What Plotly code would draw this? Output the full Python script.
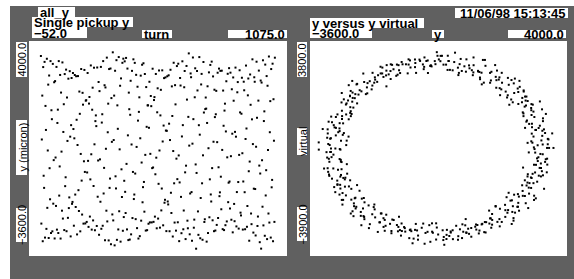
import plotly.graph_objects as go

W, H = 574, 279

# ---- data (read / estimated from the picture) ----
turn = list(range(0, 1024, 2))

y_micron = [
    3470, -2454, 519, 2070, -3078, 3078, -763, -1192, 3262, -2949,
    1705, 856, -2641, 3372, -1898, 130, 2458, -2963, 2780, -496,
    -1595, 3289, -2788, 1552, 1236, -2728, 3191, -1750, -211, 2542,
    -2980, 2582, -119, -1830, 3084, -2668, 1103, 1573, -2788, 3289,
    -1465, -434, 2800, -2983, 2177, 90, -1998, 3243, -2277, 785,
    1765, -2683, 2831, -1131, -817, 2988, -2724, 2002, 468, -2251,
    2668, -1906, -1529, 2933, 618, -2907, 1025, 2692, -1756, -1688,
    2869, 888, -2529, 560, 2798, -1428, -1867, 2754, 1215, -2837,
    323, 2760, -1273, -2009, 2213, 1426, -2728, 8, 3009, -935,
    -2135, 2168, 1750, -2455, -252, 2977, -628, -2449, 1890, 1908,
    -2395, -647, 2870, -237, -2571, 1788, 2021, -2207, -892, 3136,
    -4, -2667, 1571, 2350, -2342, -1125, 3056, 348, -2690, 1168,
    1370, 991, -2538, 3064, -1505, -224, 2551, -2850, 2228, -184,
    -1682, 3084, -2638, 1117, 1411, -2531, 3289, -1390, -485, 2436,
    -3043, 2358, 190, -1998, 3412, -2378, 774, 1785, -3049, 3008,
    -1192, -863, 3028, -3184, 1982, 435, -2131, 3600, -2342, 499,
    2070, -3224, 2948, -783, -1212, 3322, -3029, 1725, 896, -2661,
    3432, -2018, 170, 2418, -3092, 2678, -536, -1515, 3229, -2708,
    3375, -2224, -941, 3281, -1332, -2081, 3402, -344, -2660, 3025,
    665, -3038, 2175, 1589, -3018, 1392, 2594, -2835, 342, 2944,
    -2259, -628, 3352, -1587, -1427, 3227, -685, -2297, 2804, 256,
    -2615, 2383, 1186, -2982, 1495, 2009, -2898, 562, 2776, -2351,
    -296, 3161, -1701, -1166, 3213, -982, -2033, 2833, -25, -2701,
    2371, 966, -2687, 1725, 1726, -2460, 932, 2559, -2412, 11,
    2057, 1697, -2413, -494, 3020, -471, -2393, 1913, 2017, -2208,
    -711, 2835, -124, -2621, 1480, 2328, -2277, -1049, 2958, 130,
    -2598, 1370, 2274, -1988, -1215, 2963, 448, -2515, 1011, 2688,
    -1717, -1613, 2713, 834, -2720, 825, 2753, -1673, -1777, 2788,
    1077, -2724, 499, 2983, -1365, -2079, 2396, 1350, -2911, 110,
    3231, -1030, -2418, 2439, 1760, -2703, -159, 3114, -883, -2408,
    3197, -45, -3075, -999, 2693, 2426, -1510, -2794, 626, 3282,
    1026, -2656, -1992, 2365, 2940, -643, -3002, -407, 3118, 1929,
    -2351, -2620, 1318, 3562, 302, -2833, -1390, 2853, 2720, -1341,
    -3063, 371, 3417, 1238, -2600, -2314, 2011, 3035, -363, -3342,
    -664, 2939, 2252, -2024, -2852, 1024, 3431, 689, -2973, -1549,
    2464, 2837, -1030, -3027, -41, 3257, 1472, -2397, -2302, 1593,
    2002, 1610, -3092, 1103, 2399, -2788, 210, 2891, -2231, -890,
    3154, -1425, -1673, 3271, -494, -2338, 2748, 439, -2723, 2278,
    1310, -2700, 1410, 2238, -2501, 424, 2878, -2257, -463, 3024,
    -1485, -1350, 2944, -797, -1948, 2951, 150, -2651, 2248, 1004,
    -2684, 1540, 1785, -2511, 803, 2577, -2378, -112, 2841, -1697,
    -1009, 3040, -968, -1917, 2881, -72, -2318, 2294, 723, -2764,
    2712, 1889, -1759, -2370, 788, 3060, 618, -2554, -1340, 2187,
    2548, -986, -2631, -26, 2966, 1476, -2068, -2166, 1429, 2701,
    33, -2666, -966, 2561, 2258, -1345, -2654, 537, 3132, 907,
    -2567, -1833, 2079, 2674, -604, -3060, -262, 2816, 1745, -2098,
    -2475, 1231, 3352, 356, -2772, -1220, 2718, 2559, -1233, -2874,
    262, 3268, 1286, -2538, -2205, 1893, 2954, -404, -3112, -684,
    2602, -3340, 2531, -215, -1858, 3318, -2518, 1170, 1513, -2885,
    3166, -1460, -567, 2760, -3003, 2418, 150, -2098, 3452, -2418,
    776, 1875, -2949, 3008, -1172, -910, 3198, -3078, 1942, 475,
    -2394, 3410,
]

y_virtual = [
    -30, 2218, -3183, 2660, -756, -1835, 2966, -3005, 1353, 890,
    -2738, 3158, -2058, -435, 2291, -3310, 2454, -359, -2010, 3138,
    -3038, 1030, 1171, -3045, 3211, -1700, -745, 2660, -3461, 2098,
    -50, -2278, 3103, -2760, 614, 1600, -3106, 3122, -1351, -1010,
    2638, -2984, 1810, 319, -2259, 3080, -2502, 239, 1753, -3191,
    2698, -997, -1270, 2788, -2863, 1520, 574, -2578, 2764, -2198,
    1606, 1926, -2693, -1087, 2750, -270, -3074, 1245, 2204, -2230,
    -1452, 2727, 72, -3021, 912, 2513, -2088, -1751, 2576, 419,
    -2979, 689, 2604, -1823, -1794, 2492, 669, -2730, 378, 2652,
    -1563, -2068, 2387, 996, -2739, 158, 2851, -1408, -2129, 2126,
    1286, -2973, -190, 2792, -1156, -2609, 1860, 1566, -2735, -499,
    2890, -792, -2684, 1705, 1953, -2612, -908, 2953, -457, -2898,
    2711, -2801, 1525, 614, -2376, 2874, -2138, -50, 1777, -3074,
    2498, -634, -1645, 2823, -2988, 1170, 930, -2608, 3011, -1705,
    -419, 2402, -3130, 2331, -415, -1882, 2844, -2778, 910, 1271,
    -3085, 2966, -1740, -767, 2418, -3292, 2038, -30, -2298, 3083,
    -2680, 647, 1540, -3026, 2965, -1493, -1030, 2658, -3258, 1938,
    295, -2471, 3270, -2634, 335, 1762, -3278, 2878, -1050, -1351,
    1188, 2244, -2973, 94, 2936, -2798, -903, 3086, -1892, -1893,
    3046, -985, -2499, 2911, 74, -3092, 2372, 1078, -3329, 1321,
    1897, -2952, 504, 2574, -2546, -586, 3143, -2115, -1375, 3077,
    -1104, -2321, 2753, -174, -2748, 2111, 786, -3061, 1667, 1627,
    -2889, 684, 2307, -2594, -245, 2935, -2197, -1052, 2909, -1484,
    -1906, 2894, -517, -2553, 2305, 376, -3031, 1973, 1225, -3029,
    2068, -2274, -1189, 2864, -10, -2751, 1109, 2397, -2208, -1360,
    2641, 152, -3034, 851, 2248, -1917, -1833, 2553, 483, -2730,
    503, 2731, -1637, -1977, 2438, 837, -2964, 232, 2701, -1570,
    -2148, 2337, 1109, -2944, -70, 2971, -1189, -2517, 2068, 1490,
    -2923, -428, 3083, -957, -2818, 1997, 1605, -2791, -765, 2970,
    -745, -2791, 1842, 1937, -2888, -1057, 3083, -404, -3006, 1430,
    766, 2908, 489, -3016, -1745, 2283, 2639, -1200, -3296, -256,
    3143, 1302, -2581, -2753, 1401, 3105, -175, -3316, -1239, 2741,
    2370, -1890, -2953, 491, 3269, 689, -2997, -2183, 1990, 2738,
    -886, -3498, -627, 2933, 1711, -2473, -2838, 1077, 3134, 169,
    -3260, -1463, 2479, 2635, -1613, -3054, 102, 3382, 1092, -2694,
    -2347, 1650, 2956, -526, -3391, -863, 2664, 2011, -2015, -3058,
    2498, -2688, -375, 2926, -2117, -1331, 3140, -1290, -2138, 3049,
    -364, -2858, 2417, 585, -2964, 1762, 1450, -3143, 857, 2231,
    -2771, -90, 2691, -2351, -951, 2954, -1665, -1813, 2658, -634,
    -2376, 2568, 208, -2903, 1897, 1150, -2880, 1110, 1857, -2578,
    228, 2308, -2396, -611, 2658, -1773, -1495, 2655, -971, -2056,
    2593, -70, -2496, 2139, 831, -2795, 1415, 1517, -2818, 534,
    1205, -2109, -2405, 1187, 2579, -196, -2978, -1095, 2176, 1989,
    -1684, -2858, 439, 2929, 712, -2769, -1846, 1881, 2432, -733,
    -3068, -536, 2752, 1545, -2255, -2421, 1006, 2766, 66, -2766,
    -1416, 2361, 2306, -1367, -3011, 112, 2961, 953, -2552, -2322,
    1670, 2675, -530, -3218, -809, 2724, 2030, -1997, -2748, 707,
    3267, 403, -2851, -1730, 2265, 2516, -1106, -3168, -181, 2956,
    2158, -90, -2138, 3212, -2901, 636, 1565, -3209, 3122, -1432,
    -1023, 2848, -3444, 1810, 299, -2542, 3400, -2462, 275, 1822,
    -3318, 2938, -1130, -1291, 2945, -3169, 1635, 636, -2678, 3272,
    -2378, -30,
]

# axis ranges and their labels
left_x_range = [-52.0, 1075.0]
left_y_range = [-3600.0, 4000.0]
right_x_range = [-3600.0, 4000.0]
right_y_range = [-3900.0, 3800.0]

left_hist_id = "all_y"
left_title = "Single pickup y"
left_x_labels = ["\u221252.0", "turn", "1075.0"]
left_y_labels = ["4000.0", "y (micron)", "\u22123600.0"]
right_title = "y versus y virtual"
right_x_labels = ["\u22123600.0", "y", "4000.0"]
right_y_labels = ["3800.0", "virtual", "\u22123900.0"]
stamp = "11/06/98 15:13:45"

# ---- layout helpers (pixel -> paper) ----
def fx(px):
    return px / W

def fy(py):
    return 1 - py / H

GRAY = "#606060"
FONT = "Liberation Sans"
TSIZE = 13

fig = go.Figure()
mk = dict(symbol="square", size=2, color="black", line=dict(width=0))
fig.add_trace(go.Scatter(x=turn, y=y_micron, mode="markers", marker=mk,
                         xaxis="x", yaxis="y", hoverinfo="skip"))
fig.add_trace(go.Scatter(x=y_micron, y=y_virtual, mode="markers", marker=mk,
                         xaxis="x2", yaxis="y2", hoverinfo="skip"))

ax = dict(showgrid=False, zeroline=False, showticklabels=False, ticks="",
          showline=False, fixedrange=True)
plot_top, plot_bot = 41, 256
fig.update_layout(
    width=W, height=H, margin=dict(l=0, r=0, t=0, b=0),
    paper_bgcolor=GRAY, plot_bgcolor="white", showlegend=False,
    xaxis=dict(domain=[fx(29), fx(287)], range=left_x_range, anchor="y", **ax),
    yaxis=dict(domain=[fy(plot_bot), fy(plot_top)], range=left_y_range, anchor="x", **ax),
    xaxis2=dict(domain=[fx(310), fx(567)], range=right_x_range, anchor="y2", **ax),
    yaxis2=dict(domain=[fy(plot_bot), fy(plot_top)], range=right_y_range, anchor="x2", **ax),
)

shapes = []
def rect(x0, y0, x1, y1, color="white"):
    shapes.append(dict(type="rect", xref="paper", yref="paper",
                       x0=fx(x0), x1=fx(x1), y0=fy(y1), y1=fy(y0),
                       line=dict(width=0), fillcolor=color, layer="below"))

# white page margins
rect(0, 0, W, 6)
rect(0, 0, 10, H)

annots = []
def label(text, box, align="left", vertical=False):
    x0, y0, x1, y1 = box
    rect(x0, y0, x1, y1)
    if vertical:
        annots.append(dict(text=text, x=fx((x0 + x1) / 2 + 0.5), y=fy((y0 + y1) / 2),
                           xref="paper", yref="paper", showarrow=False,
                           textangle=-90, xanchor="center", yanchor="middle", borderpad=0,
                           font=dict(family=FONT, size=11, color="black")))
        return
    if align == "left":
        x, xa = fx(x0 + 1), "left"
    elif align == "right":
        x, xa = fx(x1 - 1), "right"
    else:
        x, xa = fx((x0 + x1) / 2), "center"
    annots.append(dict(text="<b>%s</b>" % text, x=x, y=fy((y0 + y1) / 2 + 0.5),
                       xref="paper", yref="paper", showarrow=False,
                       xanchor=xa, yanchor="middle", borderpad=0,
                       font=dict(family=FONT, size=TSIZE, color="black")))

# left panel texts
label(left_hist_id, (38, 7, 75, 17))
label(left_title, (32, 17, 133, 27))
label(left_x_labels[0], (32, 27, 87, 38))
label(left_x_labels[1], (142, 30, 172, 38), align="center")
label(left_x_labels[2], (228, 30, 287, 38), align="right")
label(left_y_labels[0], (16, 42, 27, 77), vertical=True)
label(left_y_labels[1], (16, 120, 27, 175), vertical=True)
label(left_y_labels[2], (16, 208, 27, 242), vertical=True)

# right panel texts
label(stamp, (455, 8, 568, 18), align="right")
label(right_title, (310, 18, 424, 28))
label(right_x_labels[0], (310, 28, 372, 38))
label(right_x_labels[1], (432, 30, 444, 38), align="center")
label(right_x_labels[2], (508, 30, 566, 38), align="right")
label(right_y_labels[0], (297, 42, 307, 77), vertical=True)
label(right_y_labels[1], (297, 128, 307, 155), vertical=True)
label(right_y_labels[2], (297, 207, 307, 241), vertical=True)

fig.update_layout(shapes=shapes, annotations=annots)
fig.write_html("out.html", config={"displayModeBar": False, "staticPlot": True},
               post_script="document.body.style.margin='0';document.body.style.overflow='hidden';")
